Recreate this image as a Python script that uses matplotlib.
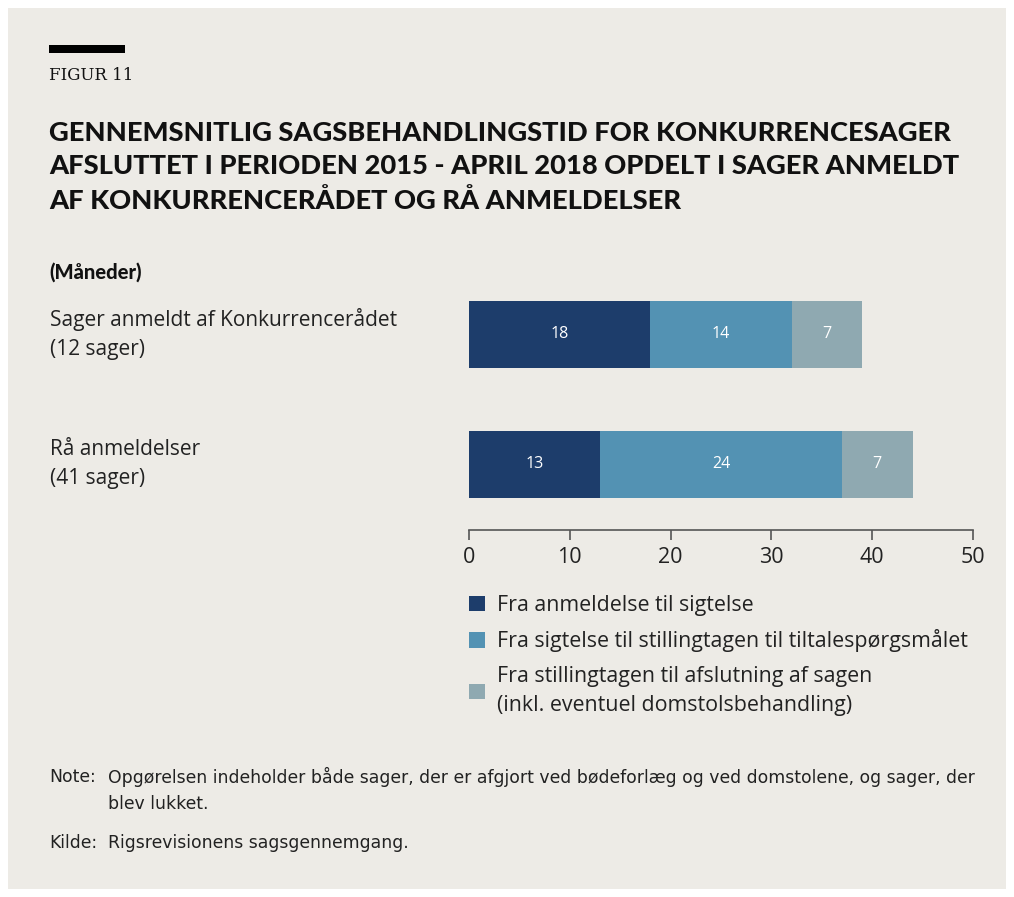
import numpy as np
import matplotlib.pyplot as plt
from matplotlib.patches import Rectangle

# data
categories = ["Sager anmeldt af Konkurrencerådet\n(12 sager)", "Rå anmeldelser\n(41 sager)"]
series_names = ["Fra anmeldelse til sigtelse",
                "Fra sigtelse til stillingtagen til tiltalespørgsmålet",
                "Fra stillingtagen til afslutning af sagen\n(inkl. eventuel domstolsbehandling)"]
anmeldelse_sigtelse = [18, 13]
sigtelse_tiltale = [14, 24]
tiltale_afslutning = [7, 7]
xticks = [0, 10, 20, 30, 40, 50]

colors = ["#1d3d6b", "#5392b3", "#8fa9b1"]
bg = "#edebe6"
W, H = 1014, 897

fig = plt.figure(figsize=(W / 100, H / 100), dpi=100)
fig.patch.set_facecolor("white")
fig.patches.append(Rectangle((8 / W, 8 / H), 998 / W, 881 / H, transform=fig.transFigure,
                             facecolor=bg, edgecolor="none", zorder=-5))

def fx(px):
    return px / W

def fy(py):
    return 1 - py / H

# header
fig.patches.append(Rectangle((fx(49), fy(53)), 76 / W, 8 / H, transform=fig.transFigure,
                             facecolor="black", edgecolor="none"))
fig.text(fx(49), fy(75), "FIGUR 11", family="DejaVu Serif", fontsize=12, va="center", color="#111111")
title = ("GENNEMSNITLIG SAGSBEHANDLINGSTID FOR KONKURRENCESAGER\n"
         "AFSLUTTET I PERIODEN 2015 - APRIL 2018 OPDELT I SAGER ANMELDT\n"
         "AF KONKURRENCERÅDET OG RÅ ANMELDELSER")
fig.text(fx(49), fy(121), title, family="Lato", weight="black", fontsize=19.6, va="top",
         linespacing=1.47, color="#111111")
fig.text(fx(49), fy(272), "(Måneder)", family="Lato", weight="black", fontsize=14.5, va="center", color="#111111")

# axes
ax = fig.add_axes([fx(469), fy(530), (973 - 469) / W, 240 / H])
ax.set_facecolor("none")
y = np.array([1, 0])
h = 0.515
left = np.zeros(2)
for vals, c, name in zip([anmeldelse_sigtelse, sigtelse_tiltale, tiltale_afslutning], colors, series_names):
    bars = ax.barh(y, vals, left=left, height=h, color=c, label=name)
    ax.bar_label(bars, labels=[str(v) for v in vals], label_type="center", color="white",
                 fontsize=11.5, family="Open Sans")
    left = left + np.array(vals)

ax.set_xlim(0, 50)
ax.set_ylim(-0.504, 1.342)
ax.set_xticks(xticks)
ax.set_xticklabels([str(t) for t in xticks], family="Open Sans", fontsize=15.5, color="#222222")
ax.set_yticks([])
for s in ["top", "right", "left"]:
    ax.spines[s].set_visible(False)
ax.spines["bottom"].set_color("#555555")
ax.spines["bottom"].set_linewidth(1.2)
ax.tick_params(axis="x", length=7, width=1.2, color="#555555", pad=5)

for yi, cat in zip(y, categories):
    fig.text(fx(50), ax.transData.transform((0, yi))[1] / H, cat, family="Open Sans",
             fontsize=15, va="center", linespacing=1.5, color="#222222")

leg = fig.legend(loc="upper left", bbox_to_anchor=(fx(469), fy(595)), frameon=False,
                 prop={"family": "Open Sans", "size": 15.4}, handlelength=0.75, handleheight=0.75,
                 handletextpad=0.56, labelspacing=0.62, borderaxespad=0, borderpad=0)
for t in leg.get_texts():
    t.set_linespacing(1.56)
    t.set_color("#222222")

# notes
nf = {"family": "DejaVu Sans", "fontsize": 12.4, "color": "#222222", "va": "center"}
fig.text(fx(49), fy(777), "Note:", **nf)
fig.text(fx(108), fy(777), "Opgørelsen indeholder både sager, der er afgjort ved bødeforlæg og ved domstolene, og sager, der", **nf)
fig.text(fx(108), fy(804), "blev lukket.", **nf)
fig.text(fx(49), fy(843), "Kilde:", **nf)
fig.text(fx(108), fy(843), "Rigsrevisionens sagsgennemgang.", **nf)

plt.savefig("out.png", dpi=100)
